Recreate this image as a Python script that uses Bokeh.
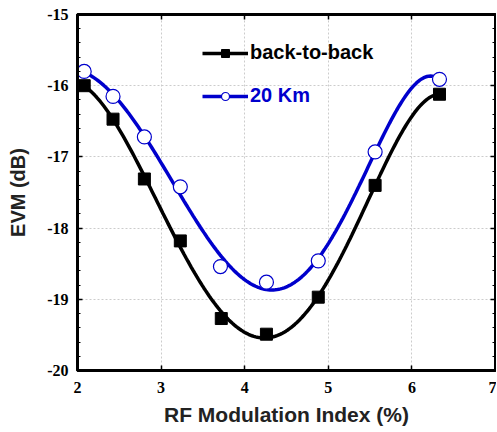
import numpy as np
from bokeh.plotting import figure
from bokeh.models import LinearAxis, Range1d, Legend, LegendItem, FixedTicker
from bokeh.embed import file_html
from bokeh.resources import INLINE

# Data
mod_index = [2.08, 2.425, 2.80, 3.23, 3.72, 4.26, 4.88, 5.56, 6.33]
evm_b2b = [-16.00, -16.47, -17.31, -18.18, -19.27, -19.49, -18.97, -17.40, -16.12]
mod_index_20 = [2.08, 2.425, 2.80, 3.23, 3.71, 4.26, 4.88, 5.56, 6.33]
evm_20km = [-15.80, -16.15, -16.72, -17.42, -18.54, -18.76, -18.46, -16.93, -15.91]
x_ticks = [2, 3, 4, 5, 6, 7]
y_ticks = [-20, -19, -18, -17, -16, -15]
y_minor = [-20 + 0.2 * i for i in range(26)]

BLUE = "#0000CC"

p = figure(width=496, height=430, output_backend="svg", toolbar_location=None,
           x_range=Range1d(2, 7), y_range=Range1d(-20, -15),
           min_border_left=77, min_border_right=1, min_border_top=14, min_border_bottom=60)

p.outline_line_color = "black"
p.outline_line_width = 3
p.background_fill_color = "white"

# Smooth fitted curves (least-squares fit of the data)
def smooth(xs, ys, deg=5):
    c = np.polyfit(xs, ys, deg)
    xf = np.linspace(min(xs), max(xs), 200)
    return xf, np.polyval(c, xf)

xb, yb = smooth(mod_index, evm_b2b)
xk, yk = smooth(mod_index_20, evm_20km)

lb = p.line(xb, yb, line_color="black", line_width=3.5)
mb = p.scatter(mod_index, evm_b2b, marker="square", size=12, fill_color="black", line_color="black")
lk = p.line(xk, yk, line_color=BLUE, line_width=3.5)
mk = p.scatter(mod_index_20, evm_20km, marker="circle", size=14, fill_color="white", line_color=BLUE, line_width=1.2)

for ax in (p.xaxis[0], p.yaxis[0]):
    ax.axis_line_width = 3
    ax.major_tick_in = 5
    ax.major_tick_out = 0
    ax.minor_tick_out = 0
    ax.major_tick_line_width = 1.5
    ax.major_label_text_font = "Liberation Serif"
    ax.major_label_text_font_style = "bold"
    ax.major_label_text_font_size = "16px"
    ax.major_label_text_color = "black"
    ax.axis_label_text_font = "Liberation Sans"
    ax.axis_label_text_font_style = "bold"
    ax.axis_label_text_color = "#222222"

p.xaxis[0].ticker = FixedTicker(ticks=x_ticks)
p.yaxis[0].ticker = FixedTicker(ticks=y_ticks, minor_ticks=y_minor)
p.xaxis[0].major_label_overrides = {t: str(t) for t in x_ticks}
p.yaxis[0].major_label_overrides = {t: str(t) for t in y_ticks}
p.xaxis[0].minor_tick_in = 0
p.yaxis[0].minor_tick_in = 3
p.xaxis[0].axis_label = "RF Modulation Index (%)"
p.yaxis[0].axis_label = "EVM (dB)"
p.xaxis[0].axis_label_text_font_size = "21px"
p.yaxis[0].axis_label_text_font_size = "20px"
p.xaxis[0].major_label_standoff = 11
p.yaxis[0].major_label_standoff = 9
p.xaxis[0].axis_label_standoff = 7
p.yaxis[0].axis_label_standoff = 15

# Mirror axes (top and right) with ticks but no labels
top = LinearAxis(ticker=FixedTicker(ticks=x_ticks), major_label_text_color=None,
                 axis_line_width=3, major_tick_in=5, major_tick_out=0, minor_tick_in=0, minor_tick_out=0,
                 major_tick_line_width=1.5, major_label_standoff=0)
right = LinearAxis(ticker=FixedTicker(ticks=y_ticks, minor_ticks=y_minor),
                   major_label_text_color=None, axis_line_width=3, major_tick_in=5,
                   major_tick_out=0, minor_tick_in=3, minor_tick_out=0, major_tick_line_width=1.5,
                   major_label_standoff=0)
p.add_layout(top, "above")
p.add_layout(right, "right")

for g in (p.xgrid[0], p.ygrid[0]):
    g.grid_line_color = "#cccccc"
    g.grid_line_dash = "2 2"
    g.grid_line_width = 1

common = dict(glyph_width=46, glyph_height=20, label_height=20, label_standoff=2,
              padding=0, margin=0, border_line_color=None, background_fill_alpha=0,
              label_text_font="Liberation Sans", label_text_font_style="bold",
              label_text_font_size="20px")
leg1 = Legend(items=[LegendItem(label="back-to-back", renderers=[lb, mb])],
              location=(125, 306), label_text_color="black", **common)
leg2 = Legend(items=[LegendItem(label="20 Km", renderers=[lk, mk])],
              location=(125, 263), label_text_color=BLUE, **common)
p.add_layout(leg1, "center")
p.add_layout(leg2, "center")

open("out.html", "w").write(file_html(p, INLINE))
